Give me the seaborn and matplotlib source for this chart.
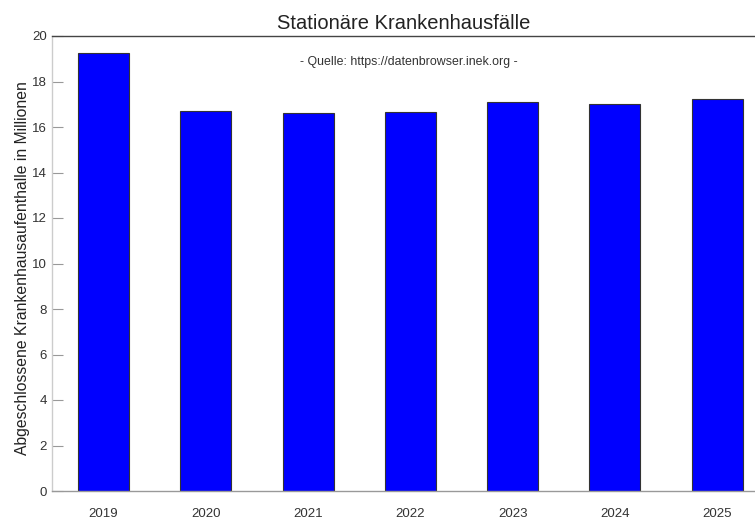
import pandas as pd
import seaborn as sns
import matplotlib.pyplot as plt

# Values (millions)
years = ["2019", "2020", "2021", "2022", "2023", "2024", "2025"]
faelle = [19.24, 16.70, 16.60, 16.65, 17.08, 17.03, 17.22]

df = pd.DataFrame({"Jahr": years, "Faelle": faelle})

sns.set_style("white")
plt.rcParams["font.family"] = ["Liberation Sans", "DejaVu Sans"]

fig = plt.figure(figsize=(7.55, 5.19), dpi=100)
ax = fig.add_axes([52 / 755, 28 / 519, 703 / 755, 455 / 519])

sns.barplot(data=df, x="Jahr", y="Faelle", color="#0000ff", saturation=1,
            width=0.5, edgecolor="#333333", linewidth=0.8, ax=ax)

ax.set_xlim(-0.504, 6.37)
ax.set_ylim(0, 20)
ax.set_yticks(range(0, 21, 2))

ax.set_title("Stationäre Krankenhausfälle", fontsize=14.5, pad=5, color="#222222")
ax.text(0.508, 0.955, "- Quelle: https://datenbrowser.inek.org -",
        transform=ax.transAxes, ha="center", va="top", fontsize=8.9, color="#333333")
ax.set_ylabel("Abgeschlossene Krankenhausaufenthalle in Millionen", fontsize=11.3,
              color="#222222")
ax.yaxis.set_label_coords(-0.032, 0.489)
ax.set_xlabel("")

ax.tick_params(axis="y", direction="in", length=8, width=0.8, color="#999999",
               labelsize=9.5, pad=3.5, left=True, labelcolor="#333333")
ax.tick_params(axis="x", length=0, labelsize=9.5, pad=12, labelcolor="#333333")

ax.spines["right"].set_visible(False)
ax.spines["left"].set_color("#cccccc")
ax.spines["bottom"].set_color("#999999")
ax.spines["top"].set_color("#444444")
for s in ["left", "bottom", "top"]:
    ax.spines[s].set_linewidth(1.0)

fig.savefig("out.png", dpi=100)
